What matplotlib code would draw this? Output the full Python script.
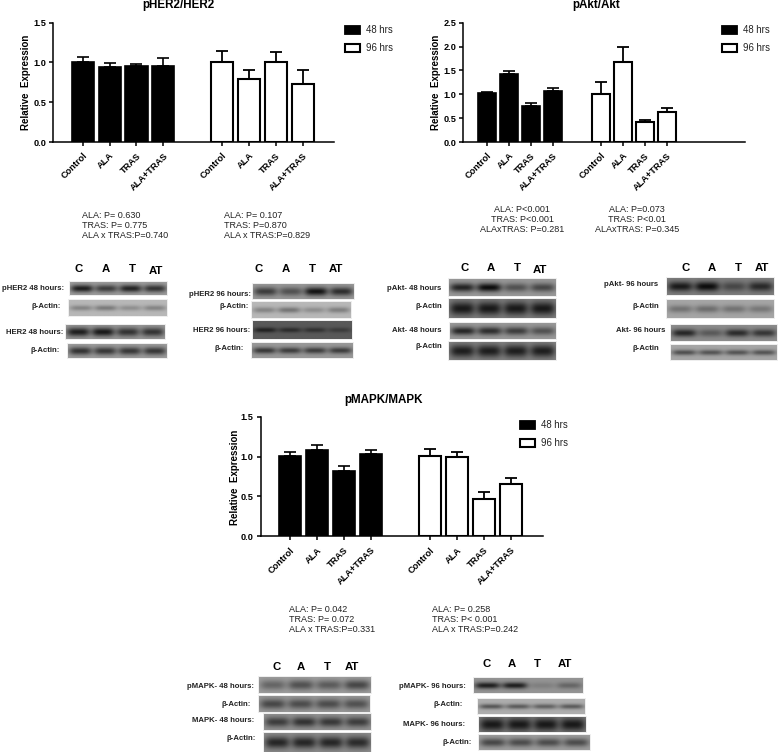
import numpy as np
import matplotlib
matplotlib.use("Agg")
import matplotlib.pyplot as plt
from matplotlib.patches import Patch

plt.rcParams['font.family'] = ['Liberation Sans', 'DejaVu Sans']

W, H = 778, 752

# ---------- data ----------
categories = ["Control", "ALA", "TRAS", "ALA+TRAS"]
series_names = ["48 hrs", "96 hrs"]

her2_48 = [1.00, 0.94, 0.96, 0.95]
her2_48_top = [1.07, 0.99, 0.985, 1.05]
her2_96 = [1.00, 0.79, 1.01, 0.73]
her2_96_top = [1.14, 0.90, 1.13, 0.91]

akt_48 = [1.02, 1.43, 0.76, 1.07]
akt_48_top = [1.05, 1.49, 0.81, 1.13]
akt_96 = [1.01, 1.67, 0.41, 0.63]
akt_96_top = [1.26, 2.00, 0.47, 0.71]

mapk_48 = [1.01, 1.08, 0.82, 1.03]
mapk_48_top = [1.06, 1.14, 0.88, 1.08]
mapk_96 = [1.01, 1.00, 0.47, 0.66]
mapk_96_top = [1.10, 1.06, 0.55, 0.73]

her2_ticks = [0.0, 0.5, 1.0, 1.5]
akt_ticks = [0.0, 0.5, 1.0, 1.5, 2.0, 2.5]
mapk_ticks = [0.0, 0.5, 1.0, 1.5]

her2_stats_48 = ["ALA: P= 0.630", "TRAS: P= 0.775", "ALA x TRAS:P=0.740"]
her2_stats_96 = ["ALA: P= 0.107", "TRAS: P=0.870", "ALA x TRAS:P=0.829"]
akt_stats_48 = ["ALA: P<0.001", "TRAS: P<0.001", "ALAxTRAS: P=0.281"]
akt_stats_96 = ["ALA: P=0.073", "TRAS: P<0.01", "ALAxTRAS: P=0.345"]
mapk_stats_48 = ["ALA: P= 0.042", "TRAS: P= 0.072", "ALA x TRAS:P=0.331"]
mapk_stats_96 = ["ALA: P= 0.258", "TRAS: P< 0.001", "ALA x TRAS:P=0.242"]

lane_labels = ["C", "A", "T", "AT"]
actin = "β-Actin:"
actin2 = "β-Actin"

# blot row labels
her2_48_labels = ["pHER2 48 hours:", actin, "HER2 48 hours:", actin]
her2_96_labels = ["pHER2 96 hours:", actin, "HER2 96 hours:", actin]
akt_48_labels = ["pAkt- 48 hours", actin2, "Akt- 48 hours", actin2]
akt_96_labels = ["pAkt- 96 hours", actin2, "Akt- 96 hours", actin2]
mapk_48_labels = ["pMAPK- 48 hours:", actin, "MAPK- 48 hours:", actin]
mapk_96_labels = ["pMAPK- 96 hours:", actin, "MAPK- 96 hours:", actin]

# band darkness per lane (read by eye)
her2_48_bands = [[.50, .38, .48, .42], [.20, .24, .16, .20], [.48, .50, .40, .40], [.42, .40, .40, .40]]
her2_96_bands = [[.36, .28, .52, .42], [.20, .26, .16, .22], [.22, .18, .16, .12], [.38, .36, .36, .36]]
akt_48_bands = [[.46, .55, .28, .32], [.40, .40, .40, .40], [.45, .42, .36, .28], [.40, .40, .40, .40]]
akt_96_bands = [[.40, .45, .22, .34], [.20, .22, .20, .18], [.40, .20, .38, .34], [.34, .32, .32, .32]]
mapk_48_bands = [[.22, .30, .26, .34], [.32, .30, .30, .28], [.34, .38, .36, .34], [.40, .40, .40, .38]]
mapk_96_bands = [[.46, .46, .08, .18], [.34, .32, .30, .32], [.38, .38, .38, .38], [.34, .32, .32, .32]]

# ---------- layout / style ----------
TICK_FS = 6.6
STAT_FS = 6.5
TITLE_FS = 8.4
SPINE = 1.1
GAP = 5.18


def px_rect(x0, y0, x1, y1):
    return [x0 / W, 1 - y1 / H, (x1 - x0) / W, (y1 - y0) / H]


fig = plt.figure(figsize=(W / 100, H / 100), dpi=100, facecolor="white")


def bar_panel(box, first, step, ymax, yticks, d48, t48, d96, t96, title, title_xy,
              ylab_xy, leg_x, leg_y):
    ax = fig.add_axes(px_rect(*box))
    ax.patch.set_alpha(0)
    n = len(categories)
    xa = np.arange(n, dtype=float)
    xb = xa + GAP
    width = 0.82
    ax.bar(xa, d48, width, color="black", edgecolor="black", linewidth=1.2)
    ax.bar(xb, d96, width, color="white", edgecolor="black", linewidth=1.5)
    ax.errorbar(xa, d48, yerr=[np.zeros(n), np.array(t48) - np.array(d48)], fmt="none",
                ecolor="black", elinewidth=1.2, capsize=4.2, capthick=1.2)
    ax.errorbar(xb, d96, yerr=[np.zeros(n), np.array(t96) - np.array(d96)], fmt="none",
                ecolor="black", elinewidth=1.3, capsize=4.2, capthick=1.3)
    ax.set_ylim(0, ymax)
    ax.set_xlim((box[0] - first) / step, (box[2] - first) / step)
    ax.set_yticks(yticks)
    ax.set_yticklabels([f"{v:.1f}" for v in yticks], fontsize=TICK_FS, fontweight="bold")
    ax.set_xticks(np.concatenate([xa, xb]))
    ax.set_xticklabels(categories * 2, rotation=45, ha="right", rotation_mode="anchor",
                       fontsize=TICK_FS, fontweight="bold")
    ax.tick_params(axis="both", length=3, width=SPINE, pad=2)
    ax.tick_params(axis="x", pad=3.5)
    for s in ("top", "right"):
        ax.spines[s].set_visible(False)
    for s in ("left", "bottom"):
        ax.spines[s].set_linewidth(SPINE)
    fig.text(title_xy[0] / W, 1 - title_xy[1] / H, title, ha="center", va="center",
             fontsize=TITLE_FS, fontweight="bold")
    fig.text(ylab_xy[0] / W, 1 - ylab_xy[1] / H, "Relative  Expression", rotation=90,
             ha="center", va="center", fontsize=7.0, fontweight="bold")
    handles = [Patch(facecolor="black", edgecolor="black", linewidth=1.3),
               Patch(facecolor="white", edgecolor="black", linewidth=1.5)]
    fig.legend(handles, series_names, loc="upper left",
               bbox_to_anchor=(leg_x / W, 1 - leg_y / H), frameon=False,
               fontsize=6.9, handlelength=1.55, handleheight=0.85, handletextpad=0.65,
               labelspacing=0.85, borderpad=0, borderaxespad=0, labelcolor="#222222")
    return ax


bar_panel((53, 22.7, 334, 142), 82.7, 26.9, 1.5, her2_ticks, her2_48, her2_48_top, her2_96,
          her2_96_top, "pHER2/HER2", (178, 5), (26, 82), 345, 25)
bar_panel((463, 22.7, 745, 142), 487, 22.0, 2.5, akt_ticks, akt_48, akt_48_top, akt_96,
          akt_96_top, "pAkt/Akt", (596, 5), (436, 82), 722, 25)
bar_panel((260.7, 416.7, 542.7, 536.3), 290, 27.0, 1.5, mapk_ticks, mapk_48, mapk_48_top, mapk_96,
          mapk_96_top, "pMAPK/MAPK", (384, 400), (235, 477), 520, 420)

# ---------- overlay in pixel coordinates ----------
ov = fig.add_axes([0, 0, 1, 1], zorder=5)
ov.patch.set_alpha(0)
ov.axis("off")


def stats(lines, x, y0, ha="left"):
    for i, s in enumerate(lines):
        ov.text(x, y0 + i * 10, s, ha=ha, va="center", fontsize=STAT_FS, color="#222222")


stats(her2_stats_48, 82, 216)
stats(her2_stats_96, 224, 216)
stats(akt_stats_48, 522, 210, "center")
stats(akt_stats_96, 637, 210, "center")
stats(mapk_stats_48, 289, 610)
stats(mapk_stats_96, 432, 610)


def blot(box, bg, dark, thick, label, lab_x, lab_y):
    x0, y0, x1, y1 = box
    h, w = 40, 160
    X, Y = np.meshgrid((np.arange(w) + .5) / w, (np.arange(h) + .5) / h)
    img = np.full((h, w), float(bg))
    for i, d in enumerate(dark):
        cx = (i + .5) / 4
        img -= d * np.exp(-((X - cx) / 0.115) ** 4) * np.exp(-((Y - .5) / (thick * 1.4)) ** 2)
    ov.add_patch(plt.Rectangle((x0 - 1, y0 - 1), x1 - x0 + 2, y1 - y0 + 2, fc="#eeeeee", ec="none"))
    ov.imshow(np.clip(img, 0, 1), extent=(x0, x1, y1, y0), cmap="gray", vmin=0, vmax=1,
              aspect="auto", interpolation="bilinear", zorder=2)
    ov.text(lab_x, lab_y, label, ha="right", va="center", fontsize=5.6, fontweight="bold",
            color="#222222")


def blot_set(boxes, bgs, bands, thicks, labels, lab_pos, lane_x, lane_y):
    for b, bg, d, t, l, p in zip(boxes, bgs, bands, thicks, labels, lab_pos):
        blot(b, bg, d, t, l, p[0], p[1])
    for x, y, s in zip(lane_x, lane_y, lane_labels):
        ov.text(x, y, s, ha="center", va="center", fontsize=8.2, fontweight="bold")


blot_set([(70, 282, 167, 295), (69, 300, 167, 316), (66, 325, 165, 339), (68, 344, 167, 358)],
         [.62, .72, .60, .62], her2_48_bands, [.20, .12, .22, .20], her2_48_labels,
         [(64, 289), (61, 306), (63, 332), (60, 350)], [79, 106, 132, 156], [269, 269, 269, 271])
blot_set([(253, 284, 354, 299), (252, 302, 351, 318), (253, 321, 352, 339), (252, 343, 353, 358)],
         [.60, .72, .35, .60], her2_96_bands, [.20, .13, .10, .15], her2_96_labels,
         [(251, 294), (249, 307), (250, 331), (244, 349)], [259, 286, 312, 336], [269, 269, 269, 269])
blot_set([(449, 279, 556, 296), (449, 299, 556, 318), (450, 323, 556, 339), (449, 342, 556, 360)],
         [.60, .50, .60, .52], akt_48_bands, [.18, .25, .18, .25], akt_48_labels,
         [(441, 288), (442, 306), (442, 330), (442, 347)], [465, 491, 517, 540], [268, 268, 268, 270])
blot_set([(667, 278, 774, 295), (667, 300, 774, 318), (671, 325, 777, 341), (671, 345, 777, 360)],
         [.50, .65, .55, .65], akt_96_bands, [.20, .15, .17, .13], akt_96_labels,
         [(658, 285), (659, 307), (665, 331), (659, 349)], [686, 712, 738, 762], [268, 268, 268, 268])
blot_set([(259, 677, 371, 693), (259, 696, 370, 712), (264, 714, 371, 730), (264, 733, 371, 752)],
         [.62, .60, .58, .55], mapk_48_bands, [.22, .22, .22, .22], mapk_48_labels,
         [(254, 686), (251, 704), (254, 720), (256, 738)], [277, 301, 327, 352], [667, 667, 667, 667])
blot_set([(474, 678, 583, 693), (478, 699, 585, 714), (479, 717, 586, 732), (479, 735, 590, 750)],
         [.58, .68, .48, .62], mapk_96_bands, [.15, .12, .30, .20], mapk_96_labels,
         [(466, 686), (463, 704), (465, 725), (472, 742)], [487, 512, 537, 565], [664, 664, 664, 664])

ov.set_xlim(0, W)
ov.set_ylim(H, 0)

fig.savefig("out.png", dpi=100, facecolor="white")
